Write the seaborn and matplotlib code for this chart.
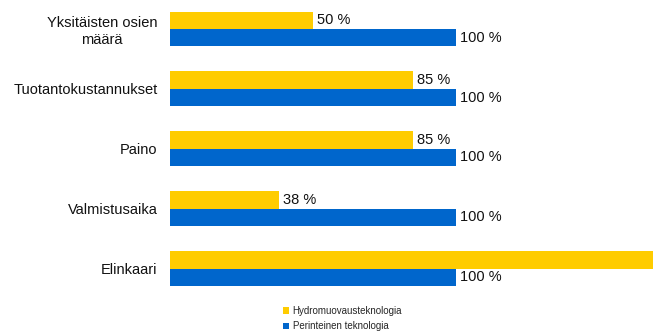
import matplotlib
matplotlib.use("Agg")
import matplotlib.pyplot as plt
from matplotlib.patches import Patch
import seaborn as sns
import pandas as pd

categories = ["Yksitäisten osien\nmäärä", "Tuotantokustannukset", "Paino",
              "Valmistusaika", "Elinkaari"]
series_names = ["Hydromuovausteknologia", "Perinteinen teknologia"]
hydro_values = [50, 85, 85, 38, 200]
traditional_values = [100, 100, 100, 100, 100]
colors = ["#FFCC00", "#0066CC"]

df = pd.DataFrame({
    "kategoria": categories * 2,
    "arvo": hydro_values + traditional_values,
    "sarja": [series_names[0]] * len(categories) + [series_names[1]] * len(categories),
})

sns.set_theme(style="white")
plt.rcParams["font.family"] = ["Liberation Sans", "DejaVu Sans"]

fig = plt.figure(figsize=(6.53, 3.31), dpi=100)
ax = fig.add_axes([170 / 653, 32.5 / 331, 483 / 653, 299.5 / 331])

sns.barplot(data=df, y="kategoria", x="arvo", hue="sarja", orient="h",
            palette=colors, saturation=1, width=0.58, legend=False, ax=ax,
            order=categories, hue_order=series_names, linewidth=0)

ax.set_xlim(0, 169)
ax.set_ylim(4.5, -0.5)
ax.set_xlabel("")
ax.set_ylabel("")
ax.set_xticks([])
for s in ax.spines.values():
    s.set_visible(False)
ax.tick_params(axis="y", length=0, pad=9, labelsize=10.5, labelcolor="#111111")
for lbl in ax.get_yticklabels():
    lbl.set_multialignment("center")

for cont, vals in zip(ax.containers, [hydro_values, traditional_values]):
    ax.bar_label(cont, labels=[f"{v} %" for v in vals], padding=3,
                 fontsize=10.5, color="#111111")

handles = [Patch(facecolor=c, edgecolor="none") for c in colors]
fig.legend(handles, series_names, loc="upper left",
           bbox_to_anchor=(283 / 653, 1 - 306 / 331), frameon=False,
           fontsize=7, handlelength=0.6, handleheight=0.6, handletextpad=0.4,
           labelspacing=0.55, borderpad=0, borderaxespad=0)

fig.savefig("out.png", dpi=100)
